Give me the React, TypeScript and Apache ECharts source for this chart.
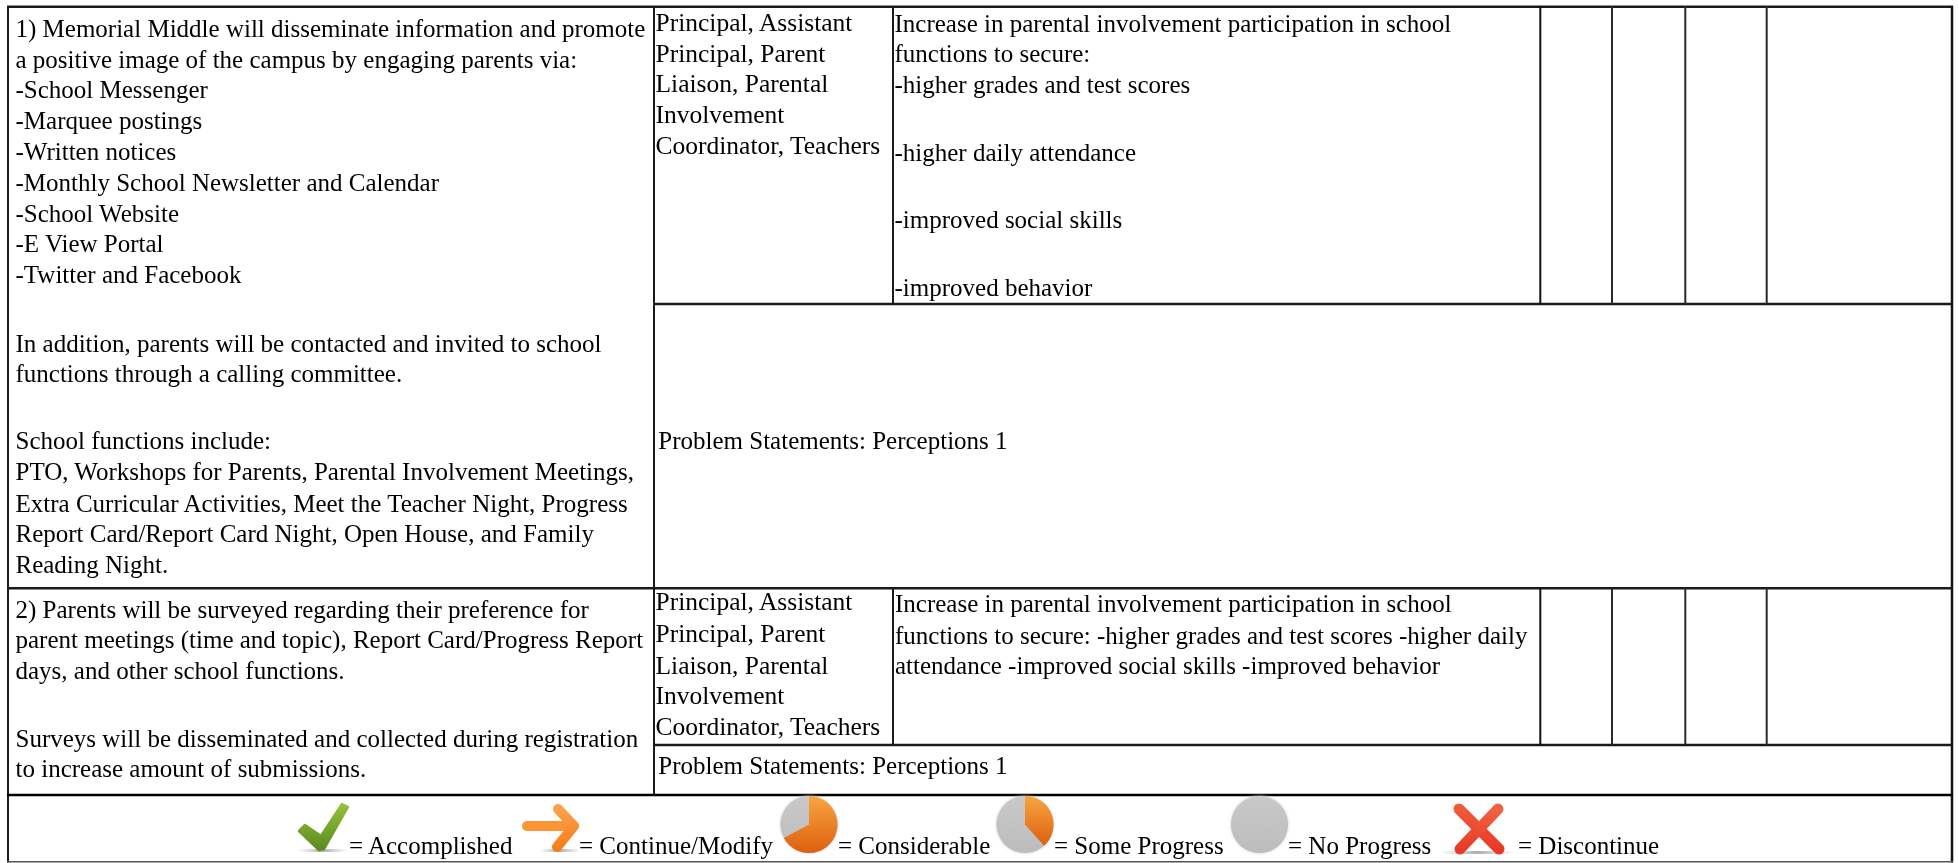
import React, { useEffect, useRef } from "react";
import * as echarts from "echarts";

const action1 = [
  "1) Memorial Middle will disseminate information and promote",
  "a positive image of the campus by engaging parents via:",
  "-School Messenger",
  "-Marquee postings",
  "-Written notices",
  "-Monthly School Newsletter and Calendar",
  "-School Website",
  "-E View Portal",
  "-Twitter and Facebook",
  "In addition, parents will be contacted and invited to school",
  "functions through a calling committee.",
  "School functions include:",
  "PTO, Workshops for Parents, Parental Involvement Meetings,",
  "Extra Curricular Activities, Meet the Teacher Night, Progress",
  "Report Card/Report Card Night, Open House, and Family",
  "Reading Night.",
];
const action2 = [
  "2) Parents will be surveyed regarding their preference for",
  "parent meetings (time and topic), Report Card/Progress Report",
  "days, and other school functions.",
  "Surveys will be disseminated and collected during registration",
  "to increase amount of submissions.",
];
const staff = ["Principal, Assistant", "Principal, Parent", "Liaison, Parental", "Involvement", "Coordinator, Teachers"];
const outcome1 = [
  "Increase in parental involvement participation in school",
  "functions to secure:",
  "-higher grades and test scores",
  "-higher daily attendance",
  "-improved social skills",
  "-improved behavior",
];
const outcome2 = [
  "Increase in parental involvement participation in school",
  "functions to secure: -higher grades and test scores -higher daily",
  "attendance -improved social skills -improved behavior",
];
const problem = "Problem Statements: Perceptions 1";
const legendLabels = ["= Accomplished", "= Continue/Modify", "= Considerable", "= Some Progress", "= No Progress", "= Discontinue"];

const FS = 25;
const FONT = "Liberation Serif";
const INK = "#000";
const RULE = "#1a1a1a";

const b1 = [36.7, 67.5, 98.3, 129.1, 159.9, 190.7, 221.5, 252.3, 283, 351.7, 381.7, 449.3, 480, 511.7, 542.3, 573.3];
const b2 = [618.3, 648.3, 679.3, 746.7, 776.7];
const bs1 = [31, 62, 92.5, 123, 154];
const bs2 = [610.5, 642.2, 673.8, 703.8, 735.5];
const bo1 = [31.5, 62.2, 93.2, 160.5, 228.2, 296.2];
const bo2 = [612, 643.6, 674.3];
const legendX = [349, 579, 838, 1054, 1288, 1518];

function txt(text: string, x: number, baseline: number, fs = FS) {
  return {
    type: "text",
    x,
    y: baseline - 0.3375 * fs,
    style: { text, fontFamily: FONT, fontSize: fs, fill: INK, textAlign: "left", textVerticalAlign: "middle" },
  };
}
function rule(x1: number, y1: number, x2: number, y2: number, w = 2, c = RULE) {
  return { type: "line", shape: { x1, y1, x2, y2 }, style: { stroke: c, lineWidth: w } };
}
const vGrad = (a: string, b: string) => new echarts.graphic.LinearGradient(0, 0, 0, 1, [
  { offset: 0, color: a },
  { offset: 1, color: b },
]);
function shadow(x: number, y: number, w: number) {
  return {
    type: "rect",
    shape: { x, y, width: w, height: 3 },
    style: { fill: new echarts.graphic.LinearGradient(0, 0, 1, 0, [
      { offset: 0, color: "rgba(120,120,120,0)" },
      { offset: 0.5, color: "rgba(110,110,110,0.55)" },
      { offset: 1, color: "rgba(120,120,120,0)" },
    ]) },
  };
}
function pie(cx: number, cy: number, r: number, endDeg: number | null) {
  const els: any[] = [
    { type: "circle", shape: { cx, cy, r }, style: { fill: vGrad("#c9c9c9", "#bcbcbc"), shadowBlur: 3, shadowColor: "#cfcfcf" } },
  ];
  if (endDeg !== null) {
    els.push({
      type: "sector",
      shape: { cx, cy, r, r0: 0, startAngle: -Math.PI / 2, endAngle: (endDeg * Math.PI) / 180, clockwise: true },
      style: { fill: vGrad("#f8a640", "#dd5f0e") },
    });
  }
  return els;
}

export default function App() {
  const ref = useRef<HTMLDivElement>(null);
  useEffect(() => {
    const chart = echarts.init(ref.current!, null, { renderer: "svg" });
    const g: any[] = [];
    g.push({ type: "rect", shape: { x: 0, y: 0, width: 1959, height: 863 }, style: { fill: "#fff" } });

    // outer frame and cell rules
    g.push(rule(7, 6.7, 1953, 6.7, 2.4));
    g.push(rule(8, 6, 8, 862.5));
    g.push(rule(1952, 6, 1952, 862.5, 2.5, "#111"));
    g.push(rule(7, 861.8, 1953, 861.8, 1.6, "#555"));
    g.push(rule(7, 588.3, 1953, 588.3, 2.4));
    g.push(rule(7, 795, 1953, 795, 2.6, "#000"));
    g.push(rule(654, 6, 654, 795));
    g.push(rule(654, 304, 1952, 304, 2.4));
    g.push(rule(654, 745, 1952, 745, 2.4));
    [893, 1540.3, 1612, 1685.3, 1766.7].forEach((x, i) => {
      const c = i === 1 ? "#111" : i === 0 ? "#1a1a1a" : "#2a2a2a";
      g.push(rule(x, 6, x, 304, 2, c));
      g.push(rule(x, 588, x, 745, 2, c));
    });

    // text cells
    action1.forEach((t, i) => g.push(txt(t, 15.5, b1[i])));
    action2.forEach((t, i) => g.push(txt(t, 15.5, b2[i])));
    staff.forEach((t, i) => g.push(txt(t, 655.5, bs1[i], 25.5)));
    staff.forEach((t, i) => g.push(txt(t, 655.5, bs2[i], 25.5)));
    outcome1.forEach((t, i) => g.push(txt(t, 894.5, bo1[i])));
    outcome2.forEach((t, i) => g.push(txt(t, 895, bo2[i])));
    g.push(txt(problem, 658.3, 449));
    g.push(txt(problem, 658.3, 773.6));
    legendLabels.forEach((t, i) => g.push(txt(t, legendX[i], 854)));

    // check mark
    g.push(shadow(298, 849, 50));
    g.push({
      type: "polygon",
      shape: { points: [[299, 831], [305, 825], [321, 836], [342, 804], [348, 807], [324, 849], [319, 850]] },
      style: { fill: vGrad("#96c23c", "#5c8a1e"), stroke: vGrad("#96c23c", "#5c8a1e"), lineWidth: 2.5, lineJoin: "round" },
    });
    // arrow
    g.push(shadow(540, 849, 40));
    g.push({ type: "polyline", shape: { points: [[527, 826], [570, 826]] }, style: { stroke: "#fb9434", lineWidth: 10, lineCap: "round" } });
    g.push({ type: "polyline", shape: { points: [[558, 809], [574, 826], [557, 847]] }, style: { stroke: vGrad("#fca04a", "#f57f1c"), lineWidth: 10, lineCap: "round", lineJoin: "round", fill: "none" } });
    // progress pies
    g.push(...pie(809, 824.5, 28.5, 152));
    g.push(...pie(1025, 824.5, 28.5, 48));
    g.push(...pie(1259.5, 824.5, 28.5, null));
    // cross
    g.push(shadow(1440, 851, 75));
    g.push({ type: "line", shape: { x1: 1459, y1: 809, x2: 1499, y2: 849 }, style: { stroke: vGrad("#ee5a3a", "#e93a28"), lineWidth: 11, lineCap: "round" } });
    g.push({ type: "line", shape: { x1: 1498, y1: 809, x2: 1460, y2: 849 }, style: { stroke: vGrad("#ef6240", "#e93a28"), lineWidth: 11, lineCap: "round" } });

    chart.setOption({ animation: false, graphic: { elements: g } });
    return () => chart.dispose();
  }, []);
  return <div ref={ref} style={{ position: "fixed", left: 0, top: 0, width: 1959, height: 863, background: "#fff", filter: "blur(0.4px)" }} />;
}
